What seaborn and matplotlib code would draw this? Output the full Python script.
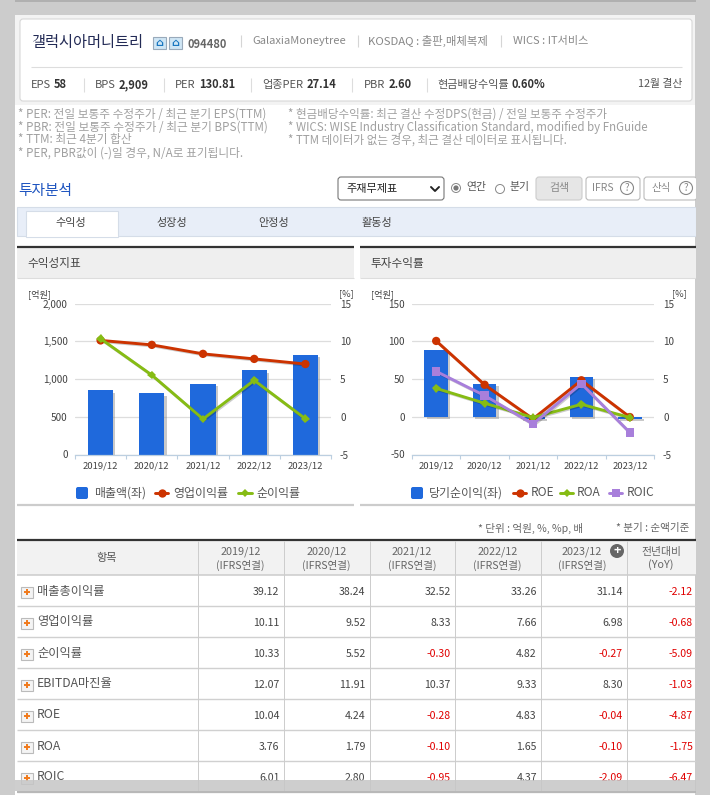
import pandas as pd
import matplotlib
matplotlib.use('Agg')
import matplotlib.pyplot as plt
import matplotlib.patheffects as pe
from matplotlib.patches import Rectangle, FancyBboxPatch, Circle
import seaborn as sns

years = ['2019/12', '2020/12', '2021/12', '2022/12', '2023/12']
sales = [850, 810, 940, 1115, 1315]
op_margin = [10.11, 9.52, 8.33, 7.66, 6.98]
net_margin = [10.33, 5.52, -0.30, 4.82, -0.27]
net_income = [88, 44, -3, 53, -3]
roe = [10.04, 4.24, -0.28, 4.83, -0.04]
roa = [3.76, 1.79, -0.10, 1.65, -0.10]
roic = [6.01, 2.80, -0.95, 4.37, -2.09]

row_names = ['매출총이익률', '영업이익률', '순이익률', 'EBITDA마진율', 'ROE', 'ROA', 'ROIC']
row_values = [
    ['39.12', '38.24', '32.52', '33.26', '31.14', '-2.12'],
    ['10.11', '9.52', '8.33', '7.66', '6.98', '-0.68'],
    ['10.33', '5.52', '-0.30', '4.82', '-0.27', '-5.09'],
    ['12.07', '11.91', '10.37', '9.33', '8.30', '-1.03'],
    ['10.04', '4.24', '-0.28', '4.83', '-0.04', '-4.87'],
    ['3.76', '1.79', '-0.10', '1.65', '-0.10', '-1.75'],
    ['6.01', '2.80', '-0.95', '4.37', '-2.09', '-6.47'],
]
head_years = ['2019/12', '2020/12', '2021/12', '2022/12', '2023/12']

summary = [('EPS', '58', 31, 84), ('BPS', '2,909', 95, 164), ('PER', '130.81', 175, 251),
           ('업종PER', '27.14', 262, 352), ('PBR', '2.60', 364, 427), ('현금배당수익률', '0.60%', 437, None)]
notes_left = ['* PER: 전일 보통주 수정주가 / 최근 분기 EPS(TTM)', '* PBR: 전일 보통주 수정주가 / 최근 분기 BPS(TTM)',
              '* TTM: 최근 4분기 합산', '* PER, PBR값이 (-)일 경우, N/A로 표기됩니다.']
notes_right = ['* 현금배당수익률: 최근 결산 수정DPS(현금) / 전일 보통주 수정주가',
               '* WICS: WISE Industry Classification Standard, modified by FnGuide',
               '* TTM 데이터가 없는 경우, 최근 결산 데이터로 표시됩니다.']
tabs = ['수익성', '성장성', '안정성', '활동성']

BLUE = '#1f69dc'
RED = '#cc3300'
GREEN = '#86bc14'
PURPLE = '#a87fdb'
TXT = '#555555'

sns.set_style('white')
plt.rcParams['font.family'] = ['Noto Sans CJK KR', 'DejaVu Sans']
plt.rcParams['axes.unicode_minus'] = False

fig = plt.figure(figsize=(7.10, 7.95), dpi=100, facecolor='#cccccc')

# page layer in pixel coordinates
bg = fig.add_axes([0, 0, 1, 1], zorder=0)
bg.set_xlim(0, 710)
bg.set_ylim(795, 0)
bg.axis('off')


def rect(x0, y0, x1, y1, fc='none', ec='none', lw=0.8, ax=bg, **kw):
    ax.add_patch(Rectangle((x0, y0), x1 - x0, y1 - y0, fc=fc, ec=ec, lw=lw, **kw))


def hline(y, x0, x1, color='#cccccc', lw=0.8, ax=bg):
    ax.plot([x0, x1], [y, y], color=color, lw=lw, solid_capstyle='butt')


def vline(x, y0, y1, color='#cccccc', lw=0.8, ax=bg):
    ax.plot([x, x], [y0, y1], color=color, lw=lw, solid_capstyle='butt')


def txt(x, y, s, size=7.8, color=TXT, ha='left', weight='normal', ax=bg, **kw):
    return ax.text(x, y, s, fontsize=size, color=color, ha=ha, va='center', fontweight=weight, **kw)


def button(x0, y0, x1, y1, fc='white', ec='#bbbbbb'):
    bg.add_patch(FancyBboxPatch((x0 + 2, y0 + 2), x1 - x0 - 4, y1 - y0 - 4,
                                boxstyle='round,pad=2,rounding_size=3', fc=fc, ec=ec, lw=0.8))


rect(0, 0, 710, 2, fc='#b0b0b0')
rect(15, 15, 695, 795, fc='white')
rect(15, 15, 695, 105, fc='#f3f3f3')
button(20, 19, 692, 101, ec='#d8d8d8')

# company header
txt(31, 43, '갤럭시아머니트리', size=11, color='#222a55')
for x0 in (153, 169):
    rect(x0, 37, x0 + 13, 49, fc='#cfe6f5', ec='#9ab')
    txt(x0 + 6.5, 43, '⌂', size=8, color='#1a77c0', ha='center', family='DejaVu Sans', weight='bold')
txt(187, 44, '094480', size=8, color='#666666', weight='bold')
for x in (241, 358, 501):
    vline(x, 35, 47, color='#d5d5d5')
txt(252, 41, 'GalaxiaMoneytree', size=8, color='#888888')
txt(368, 41, 'KOSDAQ : 출판,매체복제', size=8.2, color='#888888')
txt(513, 41, 'WICS : IT서비스', size=8, color='#888888')
hline(67, 31, 682, color='#dddddd')

renderer = fig.canvas.get_renderer()
for name, val, x, sep in summary:
    t = txt(x, 85, name, size=8, color='#555555')
    w = t.get_window_extent(renderer).width
    txt(x + w + 3, 85, val, size=8, color='#333333', weight='bold')
    if sep:
        vline(sep, 78, 92, color='#dddddd')
txt(682, 84, '12월 결산', size=7.8, color='#555555', ha='right')

for i, s in enumerate(notes_left):
    txt(18, 114 + i * 13, s, size=8.4, color='#a0a0a0')
for i, s in enumerate(notes_right):
    txt(288, 114 + i * 13, s, size=8.3, color='#a0a0a0')

# search row
txt(18, 191, '투자분석', size=10.6, color='#1f55c0', weight='medium')
button(338, 177, 444, 200, ec='#777777')
txt(346, 189, '주재무제표', size=8, color='#222222')
bg.plot([431, 435, 439], [187, 191, 187], color='#222222', lw=1.4)
bg.add_patch(Circle((456, 188), 4.5, fc='white', ec='#888888', lw=0.7))
bg.add_patch(Circle((456, 188), 2.6, fc='#777777', ec='none'))
txt(466, 187, '연간', size=7.8)
bg.add_patch(Circle((500, 189), 4.5, fc='white', ec='#888888', lw=0.7))
txt(510, 187, '분기', size=7.8)
button(536, 177, 582, 200, fc='#e6e6e6', ec='#cccccc')
txt(559, 188, '검색', size=7.8, color='#888888', ha='center')
button(586, 177, 640, 200)
txt(592, 188, 'IFRS', size=7.5, color='#888888')
button(644, 177, 697, 200)
txt(651, 188, '산식', size=7.5, color='#888888')
for x in (627, 686):
    bg.add_patch(Circle((x, 188), 6.5, fc='white', ec='#888888', lw=0.8))
    txt(x, 188, '?', size=7, color='#888888', ha='center')

# tabs
rect(17, 207, 696, 236, fc='#e8eef8', ec='#d5dde8')
rect(26, 211, 118, 237, fc='white', ec='#d5dde8')
hline(236, 26.5, 117.5, color='white', lw=1.2)
for x, s in zip((71, 172, 274, 377), tabs):
    txt(x, 223, s, size=8, color='#444444', ha='center')

# panel headers
for x0, x1, s in ((17, 354, '수익성지표'), (360, 696, '투자수익률')):
    rect(x0, 247, x1, 278, fc='#efefef')
    hline(247, x0, x1, color='#333333', lw=1.6)
    hline(278, x0, x1, color='#dddddd')
    hline(505, x0, x1, color='#cccccc', lw=1.6)
    txt(x0 + 10, 263, s, size=8.4, color='#444444')


def make_chart(box, bars, bar_ylim, bar_ticks, lines):
    x0, x1, y0, y1 = box
    ax = fig.add_axes([x0 / 710, 1 - y1 / 795, (x1 - x0) / 710, (y1 - y0) / 795], zorder=2)
    ax.patch.set_alpha(0)
    df = pd.DataFrame({'year': years, 'bar': bars})
    sns.barplot(data=df, x='year', y='bar', color=BLUE, saturation=1, width=0.49, linewidth=0, ax=ax)
    for p in ax.patches:
        p.set_path_effects([pe.SimplePatchShadow(offset=(1.6, -1.6), shadow_rgbFace='#888888', alpha=0.45), pe.Normal()])
    ax.set_ylim(*bar_ylim)
    ax.set_yticks(bar_ticks, [f'{v:,}' for v in bar_ticks])
    ax.set_axisbelow(True)
    ax.grid(axis='y', color='#dddddd', lw=0.9)
    ax.grid(axis='x', visible=False)
    ax.set_xlabel('')
    ax.set_ylabel('')
    ax.tick_params(axis='y', length=0, pad=5.2, labelsize=7.2, labelcolor='#444444')
    sns.despine(ax=ax, left=True, right=True, top=True)
    ax.spines['bottom'].set_color('#bccfe0')
    ax.spines['bottom'].set_linewidth(0.9)

    tw = ax.twinx()
    for vals, color, marker, ms in lines:
        d = pd.DataFrame({'year': years, 'v': vals})
        sns.pointplot(data=d, x='year', y='v', color=color, marker=marker, markersize=ms,
                      linewidth=2.1, markeredgewidth=0, errorbar=None, ax=tw)
    for ln in tw.lines:
        ln.set_path_effects([pe.SimpleLineShadow(offset=(0.8, -0.8), alpha=0.2), pe.Normal()])
    tw.set_ylim(-5, 15)
    tw.set_yticks([-5, 0, 5, 10, 15])
    tw.set_ylabel('')
    tw.set_xlabel('')
    tw.grid(False)
    tw.tick_params(axis='y', length=0, pad=6.5, labelsize=7.2, labelcolor='#444444', labelright=True, labelleft=False)
    tw.yaxis.tick_right()
    for side in ('left', 'right', 'top', 'bottom'):
        tw.spines[side].set_visible(False)

    ax.set_xlim(-0.5, 4.5)
    ax.set_xticks(range(5), years)
    ax.set_xticks([i - 0.5 for i in range(6)], minor=True)
    ax.tick_params(axis='x', which='major', length=0, pad=5, labelsize=6.8, labelcolor='#444444', bottom=True)
    ax.tick_params(axis='x', which='minor', length=3.2, width=0.8, color='#bccfe0', bottom=True)
    return ax


make_chart((75, 331, 303.5, 454.5), sales, (0, 2000), [0, 500, 1000, 1500, 2000],
           [(op_margin, RED, 'o', 6), (net_margin, GREEN, 'D', 4.4)])
make_chart((412, 654, 303.5, 454.5), net_income, (-50, 150), [-50, 0, 50, 100, 150],
           [(roe, RED, 'o', 6), (roa, GREEN, 'D', 4.4), (roic, PURPLE, 's', 6)])

txt(28, 294, '[억원]', size=6.6, color='#444444')
txt(339, 294, '[%]', size=6.6, color='#444444')
txt(371, 294, '[억원]', size=6.6, color='#444444')
txt(672, 294, '[%]', size=6.6, color='#444444')


def legend_box(x, s, tx):
    bg.add_patch(FancyBboxPatch((x + 1, 488), 10, 10, boxstyle='round,pad=1,rounding_size=2', fc=BLUE, ec='none'))
    txt(tx, 493, s, size=8.6, color='#555555')


def legend_line(x0, x1, color, marker, ms, s, tx):
    bg.plot([x0, x1], [493, 493], color=color, lw=2.1, marker='None')
    bg.plot([(x0 + x1) / 2], [493], marker=marker, ms=ms, color=color, mew=0)
    txt(tx, 493, s, size=8.6, color='#555555')


legend_box(76, '매출액(좌)', 94)
legend_line(155, 168, RED, 'o', 6, '영업이익률', 173)
legend_line(238, 252, GREEN, 'D', 4.4, '순이익률', 256)
legend_box(411, '당기순이익(좌)', 429)
legend_line(513, 526, RED, 'o', 6, 'ROE', 531)
legend_line(560, 573, GREEN, 'D', 4.4, 'ROA', 577)
legend_line(609, 622, PURPLE, 's', 6, 'ROIC', 627)

# table
txt(478, 528, '* 단위 : 억원, %, %p, 배', size=7.6, color='#666666')
txt(616, 528, '* 분기 : 순액기준', size=7.6, color='#666666')

cols = [17, 197.5, 283.5, 369.5, 454.7, 540.8, 626.8, 696]
rows = [574.5, 605.5, 636.5, 667.5, 698.5, 729.5, 760.5, 791.5]
rect(17, 540, 696, 574.5, fc='#f2f2f2')
hline(539.7, 17, 696, color='#333333', lw=1.6)
hline(574.5, 17, 696, color='#cccccc', lw=1.1)
for y in rows[1:]:
    hline(y, 17, 696, color='#d0d0d0', lw=1.0)
for x in cols[1:-1]:
    vline(x, 541, 791, color='#cccccc', lw=0.7)

txt(107, 558, '항목', size=8, ha='center', color='#555555')
for i, y_ in enumerate(head_years):
    cx = (cols[i + 1] + cols[i + 2]) / 2
    if i == 4:
        cx -= 2
    txt(cx, 552, y_, size=7.8, ha='center', color='#666666')
    txt(cx, 565, '(IFRS연결)', size=7.6, ha='center', color='#666666')
txt(661, 552, '전년대비', size=7.8, ha='center', color='#666666')
txt(661, 565, '(YoY)', size=7.8, ha='center', color='#666666')
bg.add_patch(Circle((617, 551), 7, fc='#666666', ec='none'))
txt(617, 550.5, '+', size=9, color='white', ha='center', weight='bold')

for r, name in enumerate(row_names):
    yc = rows[r] + 17.5
    rect(21, yc - 5, 33, yc + 5.5, fc='#f4f4f4', ec='#bbbbbb')
    hline(yc + 0.2, 24, 30, color='#f07a1c', lw=1.4)
    vline(27, yc - 2.8, yc + 3.2, color='#f07a1c', lw=1.4)
    txt(37, yc - 1, name, size=8.8, color='#555555')
    for c, val in enumerate(row_values[r]):
        right = cols[c + 2] - 4 if c < 5 else 693
        col = '#e00000' if val.startswith('-') else '#444444'
        txt(right, yc, val, size=7.6, color=col, ha='right')

# side margins and the faded band at the bottom, above everything
top = fig.add_axes([0, 0, 1, 1], zorder=5)
top.set_xlim(0, 710)
top.set_ylim(795, 0)
top.axis('off')
rect(695.5, 0, 710, 795, fc='#cccccc', ax=top)
rect(0, 0, 15, 795, fc='#cccccc', ax=top)
rect(15, 780, 695.5, 791, fc='#c6c6c6', alpha=0.85, ax=top)
rect(17, 791, 695.5, 793, fc='#b8b8b8', ax=top)

fig.savefig('out.png', dpi=100, facecolor=fig.get_facecolor())
